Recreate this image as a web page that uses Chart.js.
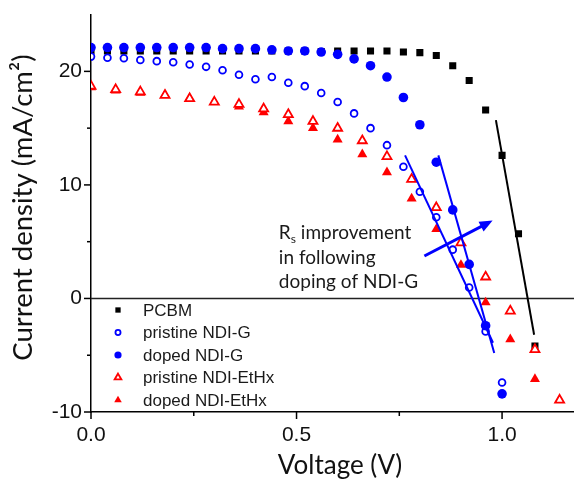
<!DOCTYPE html>
<html>
<head>
<meta charset="utf-8">
<title>J-V curves</title>
<script src="https://cdn.jsdelivr.net/npm/chart.js@4.4.1/dist/chart.umd.min.js"></script>
<style>
  html, body { margin: 0; padding: 0; background: #fff; }
  #wrap { width: 574px; height: 484px; }
</style>
</head>
<body>
<div id="wrap"><canvas id="jvChart" width="574" height="484"></canvas></div>
<script>
// voltage steps (V)
const vPcbm = [0, 0.04, 0.08, 0.12, 0.16, 0.20, 0.24, 0.28, 0.32, 0.36, 0.40, 0.44, 0.48, 0.52,
  0.56, 0.60, 0.64, 0.68, 0.72, 0.76, 0.80, 0.84, 0.88, 0.92, 0.96, 1.00, 1.04, 1.08];
const vNdiG = [0, 0.04, 0.08, 0.12, 0.16, 0.20, 0.24, 0.28, 0.32, 0.36, 0.40, 0.44, 0.48, 0.52,
  0.56, 0.60, 0.64, 0.68, 0.72, 0.76, 0.80, 0.84, 0.88, 0.92, 0.96, 1.00];
const vEtHx = [0, 0.06, 0.12, 0.18, 0.24, 0.30, 0.36, 0.42, 0.48, 0.54, 0.60, 0.66, 0.72, 0.78,
  0.84, 0.90, 0.96, 1.02, 1.08, 1.14];

// current density (mA/cm2)
const jPcbm = [21.8, 21.8, 21.8, 21.8, 21.8, 21.8, 21.8, 21.8, 21.8, 21.8, 21.8, 21.8, 21.8, 21.8,
  21.75, 21.8, 21.8, 21.8, 21.8, 21.7, 21.65, 21.4, 20.5, 19.2, 16.6, 12.6, 5.7, -4.2];
const jPristineNdiG = [21.3, 21.2, 21.15, 21.0, 20.9, 20.8, 20.6, 20.4, 20.1, 19.7, 19.3, 19.5, 19.0, 18.7,
  18.1, 17.3, 16.3, 15.0, 13.5, 11.6, 9.4, 7.15, 4.3, 0.96, -2.9, -7.4];
const jDopedNdiG = [22.1, 22.1, 22.1, 22.1, 22.1, 22.1, 22.1, 22.1, 22.0, 22.0, 22.0, 21.9, 21.8, 21.8,
  21.7, 21.5, 21.1, 20.5, 19.5, 17.7, 15.3, 12.0, 7.8, 3.0, -2.4, -8.4];
const jPristineEtHx = [18.7, 18.4, 18.2, 17.9, 17.6, 17.3, 17.1, 16.7, 16.2, 15.6,
  15.0, 13.9, 12.5, 10.5, 8.0, 4.9, 1.9, -1.1, -4.5, -8.95];
const jDopedEtHx = [18.6, 18.3, 18.1, 17.9, 17.6, 17.3, 16.9, 16.4, 15.6, 15.0,
  14.0, 12.7, 11.1, 8.8, 6.1, 2.95, -0.35, -3.6, -7.1];

// series-resistance guide lines [V, J]
const fitPcbm = [[0.985, 15.7], [1.078, -3.2]];
const fitPristineNdiG = [[0.764, 12.6], [0.978, -3.9]];
const fitDopedNdiG = [[0.845, 12.6], [0.981, -4.8]];
const arrowFrom = [0.811, 3.74];
const arrowTo = [0.977, 6.86];

const xMajorTicks = [0, 0.5, 1.0];
const xMinorTicks = [0.25, 0.75];
const yMajorTicks = [-10, 0, 10, 20];
const yMinorTicks = [-5, 5, 15];

const seriesNames = ['PCBM', 'pristine NDI-G', 'doped NDI-G', 'pristine NDI-EtHx', 'doped NDI-EtHx'];
const noteLines = ['improvement', 'in following', 'doping of NDI-G'];
const xTitle = 'Voltage (V)';
const yTitle = 'Current density (mA/cm²)';

const BLUE = '#0000ff';
const RED = '#ff0000';

function toPoints(xs, ys) {
  return ys.map((y, i) => ({ x: xs[i], y: y }));
}
function pairPoints(pairs) {
  return pairs.map(p => ({ x: p[0], y: p[1] }));
}

const markerStyles = [
  { pointStyle: 'rect', radius: 5, bg: '#000', border: '#000', bw: 0 },
  { pointStyle: 'circle', radius: 3.4, bg: '#fff', border: BLUE, bw: 1.8 },
  { pointStyle: 'circle', radius: 4.8, bg: BLUE, border: BLUE, bw: 0 },
  { pointStyle: 'triangle', radius: 5.2, bg: '#fff', border: RED, bw: 1.8 },
  { pointStyle: 'triangle', radius: 5.8, bg: RED, border: RED, bw: 0 }
];
const seriesData = [
  toPoints(vPcbm, jPcbm),
  toPoints(vNdiG, jPristineNdiG),
  toPoints(vNdiG, jDopedNdiG),
  toPoints(vEtHx, jPristineEtHx),
  toPoints(vEtHx, jDopedEtHx)
];
const drawOrder = [5, 4, 3, 1, 2];

const datasets = seriesData.map((pts, i) => ({
  label: seriesNames[i],
  data: pts,
  showLine: false,
  pointStyle: markerStyles[i].pointStyle,
  pointRadius: markerStyles[i].radius,
  pointBackgroundColor: markerStyles[i].bg,
  pointBorderColor: markerStyles[i].border,
  pointBorderWidth: markerStyles[i].bw,
  order: drawOrder[i]
}));

[[fitPcbm, '#000'], [fitPristineNdiG, BLUE], [fitDopedNdiG, BLUE]].forEach(f => {
  datasets.push({
    label: '',
    data: pairPoints(f[0]),
    showLine: true,
    borderColor: f[1],
    borderWidth: 2,
    pointRadius: 0,
    order: 0
  });
});

// zero line under the markers
const zeroLine = {
  id: 'zeroLine',
  beforeDatasetsDraw(chart) {
    const { ctx, chartArea, scales } = chart;
    const y = Math.round(scales.y.getPixelForValue(0)) + 0.5;
    ctx.save();
    ctx.strokeStyle = '#222';
    ctx.lineWidth = 1.4;
    ctx.beginPath();
    ctx.moveTo(chartArea.left, y);
    ctx.lineTo(chartArea.right, y);
    ctx.stroke();
    ctx.restore();
  }
};

// outward tick marks, long for major and short for minor
const tickMarks = {
  id: 'tickMarks',
  afterDraw(chart) {
    const { ctx, chartArea, scales } = chart;
    ctx.save();
    ctx.strokeStyle = '#000';
    ctx.lineWidth = 1.5;
    const xTick = (v, len) => {
      const px = scales.x.getPixelForValue(v);
      ctx.beginPath();
      ctx.moveTo(px, chartArea.bottom);
      ctx.lineTo(px, chartArea.bottom + len);
      ctx.stroke();
    };
    const yTick = (v, len) => {
      const py = scales.y.getPixelForValue(v);
      ctx.beginPath();
      ctx.moveTo(chartArea.left, py);
      ctx.lineTo(chartArea.left - len, py);
      ctx.stroke();
    };
    xMajorTicks.forEach(v => xTick(v, 7));
    xMinorTicks.forEach(v => xTick(v, 4));
    yMajorTicks.forEach(v => yTick(v, 7));
    yMinorTicks.forEach(v => yTick(v, 4));
    ctx.restore();
  }
};

// axis titles (x title sits a bit right of the visible axis centre)
const axisTitles = {
  id: 'axisTitles',
  afterDraw(chart) {
    const { ctx, chartArea } = chart;
    ctx.save();
    ctx.fillStyle = '#111';
    ctx.textAlign = 'center';
    ctx.textBaseline = 'middle';
    ctx.font = '26px Lato, "Open Sans", sans-serif';
    ctx.fillText(xTitle, chartArea.left + 249, chartArea.bottom + 54);
    ctx.font = '27.5px Lato, "Open Sans", sans-serif';
    ctx.translate(23, chartArea.top + 193);
    ctx.rotate(-Math.PI / 2);
    ctx.fillText(yTitle, 0, 0);
    ctx.restore();
  }
};

function drawMarker(ctx, st, x, y, scale) {
  ctx.save();
  ctx.fillStyle = st.bg;
  ctx.strokeStyle = st.border;
  ctx.lineWidth = st.bw;
  if (Chart.helpers && Chart.helpers.drawPoint) {
    Chart.helpers.drawPoint(ctx, {
      pointStyle: st.pointStyle, radius: st.radius * scale, rotation: 0, borderWidth: st.bw
    }, x, y);
  }
  ctx.restore();
}

// legend box in the lower left of the plot
const insideLegend = {
  id: 'insideLegend',
  afterDraw(chart) {
    const { ctx, chartArea } = chart;
    const x0 = chartArea.left + 27;
    const y0 = chartArea.bottom - 102;
    ctx.save();
    ctx.font = '17px "Liberation Sans", Arial, sans-serif';
    ctx.textBaseline = 'middle';
    seriesNames.forEach((name, i) => {
      const y = y0 + i * 22.5;
      drawMarker(ctx, markerStyles[i], x0, y, 0.75);
      ctx.fillStyle = '#1a1a1a';
      ctx.fillText(name, x0 + 25, y + 1);
    });
    ctx.restore();
  }
};

// arrow and note about series resistance
const rsNote = {
  id: 'rsNote',
  afterDatasetsDraw(chart) {
    const { ctx, scales } = chart;
    const x1 = scales.x.getPixelForValue(arrowFrom[0]);
    const y1 = scales.y.getPixelForValue(arrowFrom[1]);
    const x2 = scales.x.getPixelForValue(arrowTo[0]);
    const y2 = scales.y.getPixelForValue(arrowTo[1]);
    const ang = Math.atan2(y2 - y1, x2 - x1);
    const head = 13;
    ctx.save();
    ctx.strokeStyle = BLUE;
    ctx.fillStyle = BLUE;
    ctx.lineWidth = 3;
    ctx.beginPath();
    ctx.moveTo(x1, y1);
    ctx.lineTo(x2 - head * 0.8 * Math.cos(ang), y2 - head * 0.8 * Math.sin(ang));
    ctx.stroke();
    ctx.beginPath();
    ctx.moveTo(x2, y2);
    ctx.lineTo(x2 - head * Math.cos(ang) + 5.5 * Math.sin(ang), y2 - head * Math.sin(ang) - 5.5 * Math.cos(ang));
    ctx.lineTo(x2 - head * Math.cos(ang) - 5.5 * Math.sin(ang), y2 - head * Math.sin(ang) + 5.5 * Math.cos(ang));
    ctx.closePath();
    ctx.fill();

    const tx = scales.x.getPixelForValue(0.457);
    const ty = scales.y.getPixelForValue(5.2);
    ctx.fillStyle = '#1a1a1a';
    ctx.textBaseline = 'alphabetic';
    ctx.font = '19px Lato, "Open Sans", sans-serif';
    ctx.fillText('R', tx, ty);
    const rW = ctx.measureText('R').width;
    ctx.font = '12px Lato, "Open Sans", sans-serif';
    ctx.fillText('s', tx + rW, ty + 4);
    const sW = ctx.measureText('s').width;
    ctx.font = '19px Lato, "Open Sans", sans-serif';
    ctx.fillText(' ' + noteLines[0], tx + rW + sW, ty);
    ctx.fillText(noteLines[1], tx, ty + 24.5);
    ctx.fillText(noteLines[2], tx, ty + 49);
    ctx.restore();
  }
};

const tickFont = { family: '"Liberation Sans", Arial, sans-serif', size: 21 };

new Chart(document.getElementById('jvChart'), {
  type: 'scatter',
  data: { datasets: datasets },
  options: {
    responsive: false,
    animation: false,
    layout: { autoPadding: false, padding: { top: 10, right: 0, left: 0, bottom: 0 } },
    plugins: {
      legend: { display: false },
      tooltip: { enabled: false }
    },
    scales: {
      x: {
        type: 'linear',
        min: 0,
        max: 1.175,
        afterBuildTicks: s => { s.ticks = xMajorTicks.concat(xMinorTicks).sort((a, b) => a - b).map(v => ({ value: v })); },
        afterFit: s => { s.height = 72; },
        ticks: {
          font: tickFont,
          color: '#111',
          padding: 4,
          maxRotation: 0,
          autoSkip: false,
          callback: v => (xMajorTicks.some(t => Math.abs(t - v) < 1e-6) ? v.toFixed(1) : '')
        },
        grid: { display: true, drawOnChartArea: false, drawTicks: true, tickLength: 7, color: 'rgba(0,0,0,0)' },
        border: { display: true, color: '#000', width: 1.5 },
        title: { display: false }
      },
      y: {
        type: 'linear',
        min: -10,
        max: 25,
        afterBuildTicks: s => { s.ticks = yMajorTicks.concat(yMinorTicks).sort((a, b) => a - b).map(v => ({ value: v })); },
        afterFit: s => { s.width = 91; },
        ticks: {
          font: tickFont,
          color: '#111',
          padding: 2,
          autoSkip: false,
          callback: v => (yMajorTicks.some(t => Math.abs(t - v) < 1e-6) ? String(v) : '')
        },
        grid: { display: true, drawOnChartArea: false, drawTicks: true, tickLength: 7, color: 'rgba(0,0,0,0)' },
        border: { display: true, color: '#000', width: 1.5 },
        title: { display: false }
      }
    }
  },
  plugins: [zeroLine, rsNote, insideLegend, tickMarks, axisTitles]
});
</script>
</body>
</html>
